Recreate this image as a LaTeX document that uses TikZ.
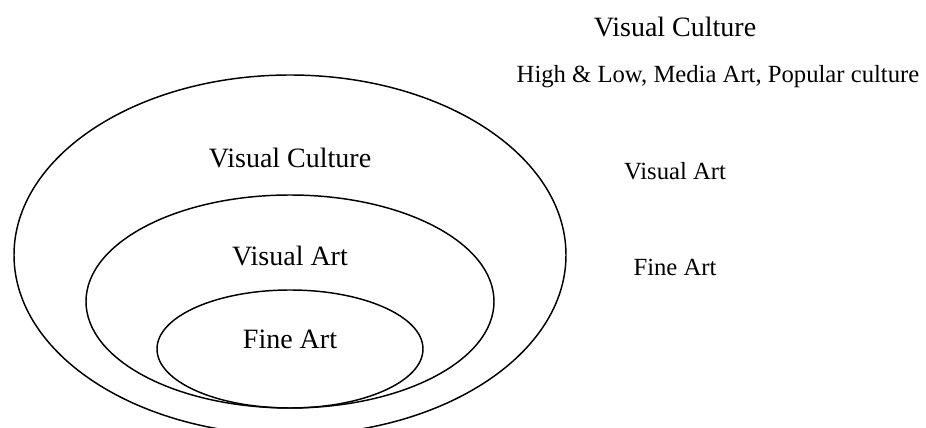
\documentclass[tikz,border=0pt]{standalone}
\usepackage{fontspec}
\setmainfont{Liberation Serif}
\usetikzlibrary{shapes.geometric}
\begin{document}
\begin{tikzpicture}[x=0.75pt,y=-0.75pt,
  ring/.style={draw, ellipse, line width=1.1pt, inner sep=0pt, outer sep=0pt},
  biglabel/.style={font=\fontsize{21}{25}\selectfont, anchor=base, inner sep=0pt},
  sidelabel/.style={font=\fontsize{18.5}{22}\selectfont, anchor=base, inner sep=0pt}]
\useasboundingbox (0,0) rectangle (926,428);
\clip (0,0) rectangle (926,428);

% nested sets
\node[ring, minimum width=414pt, minimum height=270pt] (culture) at (290,255) {};
\node[ring, minimum width=306pt, minimum height=159.75pt] (visart) at (290,301.5) {};
\node[ring, minimum width=199.5pt, minimum height=88.5pt] (fineart) at (290,349) {};

% labels inside the sets
\node[biglabel] (cultureLbl) at (290,167) {Visual Culture};
\node[biglabel] (visartLbl) at (290,266) {Visual Art};
\node[biglabel] (fineartLbl) at (290,348) {Fine Art};

% legend column on the right
\node[sidelabel, font=\fontsize{21}{25}\selectfont] (cultureHead) at (675,37) {Visual Culture};
\node[sidelabel] (cultureNote) at (718,83) {High \& Low, Media Art, Popular culture};
\node[sidelabel] (visartSide) at (675,180) {Visual Art};
\node[sidelabel] (fineartSide) at (675,276) {Fine Art};
\end{tikzpicture}
\end{document}
